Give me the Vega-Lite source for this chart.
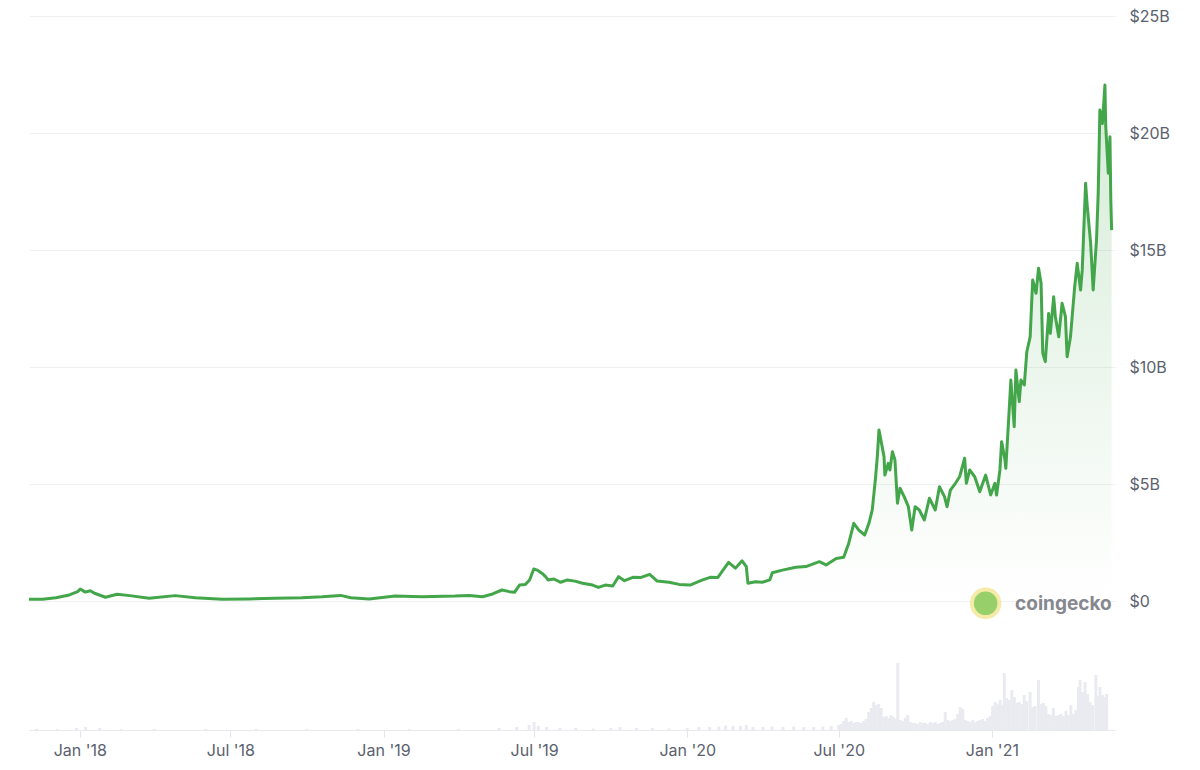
{
  "$schema": "https://vega.github.io/schema/vega-lite/v6.json",
  "background": "white",
  "padding": {"left": 27, "top": 8, "right": 0, "bottom": 0},
  "bounds": "flush",
  "spacing": 49,
  "config": {"view": {"stroke": null}, "font": "Inter"},
  "datasets": {
    "price": [
      {"date": "2017-11-07", "cap": 0.07}, {"date": "2017-11-23", "cap": 0.07}, {"date": "2017-12-09", "cap": 0.14},
      {"date": "2017-12-25", "cap": 0.26}, {"date": "2018-01-04", "cap": 0.40}, {"date": "2018-01-07", "cap": 0.51},
      {"date": "2018-01-13", "cap": 0.38}, {"date": "2018-01-19", "cap": 0.44}, {"date": "2018-01-24", "cap": 0.33},
      {"date": "2018-02-06", "cap": 0.16}, {"date": "2018-02-20", "cap": 0.29}, {"date": "2018-03-07", "cap": 0.23},
      {"date": "2018-03-30", "cap": 0.12}, {"date": "2018-04-30", "cap": 0.23}, {"date": "2018-05-24", "cap": 0.14},
      {"date": "2018-06-25", "cap": 0.07}, {"date": "2018-07-27", "cap": 0.09}, {"date": "2018-08-27", "cap": 0.12},
      {"date": "2018-09-28", "cap": 0.14}, {"date": "2018-10-22", "cap": 0.18}, {"date": "2018-11-13", "cap": 0.24},
      {"date": "2018-11-25", "cap": 0.14}, {"date": "2018-12-17", "cap": 0.09}, {"date": "2019-01-17", "cap": 0.21},
      {"date": "2019-02-18", "cap": 0.18}, {"date": "2019-03-29", "cap": 0.21}, {"date": "2019-04-15", "cap": 0.24},
      {"date": "2019-05-01", "cap": 0.18}, {"date": "2019-05-13", "cap": 0.30}, {"date": "2019-05-24", "cap": 0.47},
      {"date": "2019-06-02", "cap": 0.40}, {"date": "2019-06-08", "cap": 0.37}, {"date": "2019-06-14", "cap": 0.68},
      {"date": "2019-06-21", "cap": 0.71}, {"date": "2019-06-26", "cap": 0.90}, {"date": "2019-07-01", "cap": 1.37},
      {"date": "2019-07-05", "cap": 1.32}, {"date": "2019-07-11", "cap": 1.18}, {"date": "2019-07-15", "cap": 1.04},
      {"date": "2019-07-18", "cap": 0.90}, {"date": "2019-07-25", "cap": 0.94}, {"date": "2019-08-02", "cap": 0.80},
      {"date": "2019-08-10", "cap": 0.90}, {"date": "2019-08-19", "cap": 0.85}, {"date": "2019-08-28", "cap": 0.76},
      {"date": "2019-09-09", "cap": 0.68}, {"date": "2019-09-16", "cap": 0.58}, {"date": "2019-09-24", "cap": 0.68},
      {"date": "2019-10-03", "cap": 0.64}, {"date": "2019-10-10", "cap": 1.04}, {"date": "2019-10-17", "cap": 0.87},
      {"date": "2019-10-27", "cap": 1.01}, {"date": "2019-11-05", "cap": 1.00}, {"date": "2019-11-16", "cap": 1.14},
      {"date": "2019-11-25", "cap": 0.85}, {"date": "2019-12-09", "cap": 0.80}, {"date": "2019-12-21", "cap": 0.71},
      {"date": "2020-01-03", "cap": 0.68}, {"date": "2020-01-18", "cap": 0.90}, {"date": "2020-01-27", "cap": 1.01},
      {"date": "2020-02-05", "cap": 1.00}, {"date": "2020-02-13", "cap": 1.40}, {"date": "2020-02-18", "cap": 1.65},
      {"date": "2020-02-26", "cap": 1.40}, {"date": "2020-03-05", "cap": 1.72}, {"date": "2020-03-10", "cap": 1.47},
      {"date": "2020-03-12", "cap": 0.76}, {"date": "2020-03-21", "cap": 0.82}, {"date": "2020-03-29", "cap": 0.80},
      {"date": "2020-04-07", "cap": 0.90}, {"date": "2020-04-10", "cap": 1.21}, {"date": "2020-04-22", "cap": 1.32},
      {"date": "2020-05-08", "cap": 1.44}, {"date": "2020-05-20", "cap": 1.47}, {"date": "2020-06-05", "cap": 1.68},
      {"date": "2020-06-13", "cap": 1.54}, {"date": "2020-06-25", "cap": 1.82}, {"date": "2020-07-04", "cap": 1.87},
      {"date": "2020-07-10", "cap": 2.47}, {"date": "2020-07-16", "cap": 3.32}, {"date": "2020-07-22", "cap": 3.03},
      {"date": "2020-07-29", "cap": 2.82}, {"date": "2020-08-03", "cap": 3.32}, {"date": "2020-08-07", "cap": 3.89},
      {"date": "2020-08-11", "cap": 5.31}, {"date": "2020-08-13", "cap": 6.17}, {"date": "2020-08-15", "cap": 7.31},
      {"date": "2020-08-18", "cap": 6.74}, {"date": "2020-08-21", "cap": 6.17}, {"date": "2020-08-22", "cap": 5.38},
      {"date": "2020-08-26", "cap": 5.88}, {"date": "2020-08-28", "cap": 5.60}, {"date": "2020-08-31", "cap": 6.38},
      {"date": "2020-09-03", "cap": 6.03}, {"date": "2020-09-06", "cap": 4.18}, {"date": "2020-09-09", "cap": 4.82},
      {"date": "2020-09-14", "cap": 4.46}, {"date": "2020-09-19", "cap": 4.03}, {"date": "2020-09-23", "cap": 3.03},
      {"date": "2020-09-27", "cap": 4.03}, {"date": "2020-10-02", "cap": 3.89}, {"date": "2020-10-08", "cap": 3.46},
      {"date": "2020-10-14", "cap": 4.39}, {"date": "2020-10-21", "cap": 3.89}, {"date": "2020-10-26", "cap": 4.88},
      {"date": "2020-11-01", "cap": 4.46}, {"date": "2020-11-04", "cap": 4.03}, {"date": "2020-11-08", "cap": 4.74},
      {"date": "2020-11-14", "cap": 5.03}, {"date": "2020-11-19", "cap": 5.31}, {"date": "2020-11-25", "cap": 6.10},
      {"date": "2020-11-27", "cap": 5.03}, {"date": "2020-12-01", "cap": 5.60}, {"date": "2020-12-07", "cap": 5.31},
      {"date": "2020-12-13", "cap": 4.67}, {"date": "2020-12-20", "cap": 5.38}, {"date": "2020-12-26", "cap": 4.53},
      {"date": "2020-12-31", "cap": 5.03}, {"date": "2021-01-02", "cap": 4.53}, {"date": "2021-01-06", "cap": 5.60},
      {"date": "2021-01-08", "cap": 6.81}, {"date": "2021-01-12", "cap": 6.03}, {"date": "2021-01-13", "cap": 5.67},
      {"date": "2021-01-17", "cap": 8.16}, {"date": "2021-01-19", "cap": 9.44}, {"date": "2021-01-23", "cap": 7.45},
      {"date": "2021-01-25", "cap": 9.87}, {"date": "2021-01-29", "cap": 8.52}, {"date": "2021-01-31", "cap": 9.44},
      {"date": "2021-02-04", "cap": 9.23}, {"date": "2021-02-07", "cap": 10.65}, {"date": "2021-02-11", "cap": 11.29},
      {"date": "2021-02-14", "cap": 13.72}, {"date": "2021-02-18", "cap": 13.15}, {"date": "2021-02-21", "cap": 14.22},
      {"date": "2021-02-24", "cap": 13.58}, {"date": "2021-02-26", "cap": 10.59}, {"date": "2021-03-01", "cap": 10.23},
      {"date": "2021-03-05", "cap": 12.29}, {"date": "2021-03-07", "cap": 11.44}, {"date": "2021-03-11", "cap": 13.00},
      {"date": "2021-03-13", "cap": 12.15}, {"date": "2021-03-17", "cap": 11.29}, {"date": "2021-03-21", "cap": 12.72},
      {"date": "2021-03-25", "cap": 12.15}, {"date": "2021-03-27", "cap": 10.44}, {"date": "2021-03-31", "cap": 11.29},
      {"date": "2021-04-05", "cap": 13.43}, {"date": "2021-04-08", "cap": 14.43}, {"date": "2021-04-12", "cap": 13.29},
      {"date": "2021-04-14", "cap": 14.15}, {"date": "2021-04-18", "cap": 17.85}, {"date": "2021-04-20", "cap": 16.85},
      {"date": "2021-04-24", "cap": 15.29}, {"date": "2021-04-27", "cap": 13.29}, {"date": "2021-05-01", "cap": 15.43},
      {"date": "2021-05-03", "cap": 17.42}, {"date": "2021-05-05", "cap": 20.98}, {"date": "2021-05-08", "cap": 20.41},
      {"date": "2021-05-11", "cap": 22.05}, {"date": "2021-05-12", "cap": 20.27}, {"date": "2021-05-15", "cap": 18.28},
      {"date": "2021-05-17", "cap": 19.84}, {"date": "2021-05-18", "cap": 17.14}, {"date": "2021-05-19", "cap": 15.85}
    ],
    "volume": [
      {"date": "2017-11-10", "vol": 0.1}, {"date": "2017-12-05", "vol": 0.1}, {"date": "2017-12-28", "vol": 0.2},
      {"date": "2018-01-08", "vol": 0.3}, {"date": "2018-01-25", "vol": 0.2}, {"date": "2018-02-20", "vol": 0.1},
      {"date": "2018-04-01", "vol": 0.1}, {"date": "2018-06-01", "vol": 0.1}, {"date": "2018-08-01", "vol": 0.1},
      {"date": "2018-10-01", "vol": 0.1}, {"date": "2018-12-01", "vol": 0.1}, {"date": "2019-02-01", "vol": 0.1},
      {"date": "2019-04-01", "vol": 0.1}, {"date": "2019-05-20", "vol": 0.2}, {"date": "2019-06-10", "vol": 0.3},
      {"date": "2019-06-25", "vol": 0.5}, {"date": "2019-07-01", "vol": 0.8}, {"date": "2019-07-06", "vol": 0.4},
      {"date": "2019-07-16", "vol": 0.3}, {"date": "2019-08-01", "vol": 0.2}, {"date": "2019-08-20", "vol": 0.2},
      {"date": "2019-09-10", "vol": 0.15}, {"date": "2019-10-01", "vol": 0.2}, {"date": "2019-10-12", "vol": 0.3},
      {"date": "2019-11-01", "vol": 0.2}, {"date": "2019-11-20", "vol": 0.2}, {"date": "2019-12-10", "vol": 0.15},
      {"date": "2020-01-01", "vol": 0.2}, {"date": "2020-01-15", "vol": 0.3}, {"date": "2020-01-28", "vol": 0.3},
      {"date": "2020-02-08", "vol": 0.35}, {"date": "2020-02-16", "vol": 0.45}, {"date": "2020-02-25", "vol": 0.4},
      {"date": "2020-03-05", "vol": 0.4}, {"date": "2020-03-12", "vol": 0.5}, {"date": "2020-03-20", "vol": 0.3},
      {"date": "2020-04-01", "vol": 0.3}, {"date": "2020-04-12", "vol": 0.35}, {"date": "2020-04-25", "vol": 0.3},
      {"date": "2020-05-08", "vol": 0.35}, {"date": "2020-05-20", "vol": 0.3}, {"date": "2020-06-01", "vol": 0.3},
      {"date": "2020-06-12", "vol": 0.35}, {"date": "2020-06-22", "vol": 0.4},
      {"date": "2020-07-01", "vol": 0.5}, {"date": "2020-07-04", "vol": 0.6}, {"date": "2020-07-07", "vol": 0.9},
      {"date": "2020-07-10", "vol": 1.2}, {"date": "2020-07-13", "vol": 0.8}, {"date": "2020-07-16", "vol": 0.9},
      {"date": "2020-07-19", "vol": 0.7}, {"date": "2020-07-22", "vol": 0.8}, {"date": "2020-07-25", "vol": 0.8},
      {"date": "2020-07-28", "vol": 0.7}, {"date": "2020-07-31", "vol": 0.9}, {"date": "2020-08-03", "vol": 1.1},
      {"date": "2020-08-06", "vol": 1.8}, {"date": "2020-08-09", "vol": 2.2}, {"date": "2020-08-12", "vol": 2.8},
      {"date": "2020-08-15", "vol": 2.5}, {"date": "2020-08-18", "vol": 2.6}, {"date": "2020-08-21", "vol": 2.2},
      {"date": "2020-08-24", "vol": 1.3}, {"date": "2020-08-27", "vol": 1.4}, {"date": "2020-08-30", "vol": 1.2},
      {"date": "2020-09-02", "vol": 1.5}, {"date": "2020-09-05", "vol": 1.3}, {"date": "2020-09-08", "vol": 1.1},
      {"date": "2020-09-10", "vol": 6.7}, {"date": "2020-09-13", "vol": 1.0}, {"date": "2020-09-16", "vol": 0.9},
      {"date": "2020-09-19", "vol": 1.2}, {"date": "2020-09-22", "vol": 1.5}, {"date": "2020-09-25", "vol": 0.8},
      {"date": "2020-09-28", "vol": 0.7}, {"date": "2020-10-01", "vol": 0.7}, {"date": "2020-10-04", "vol": 0.6},
      {"date": "2020-10-07", "vol": 0.8}, {"date": "2020-10-10", "vol": 0.7}, {"date": "2020-10-13", "vol": 0.7},
      {"date": "2020-10-16", "vol": 0.6}, {"date": "2020-10-19", "vol": 0.8}, {"date": "2020-10-22", "vol": 0.7},
      {"date": "2020-10-25", "vol": 0.8}, {"date": "2020-10-28", "vol": 0.6}, {"date": "2020-10-31", "vol": 0.7},
      {"date": "2020-11-03", "vol": 0.8}, {"date": "2020-11-06", "vol": 1.8}, {"date": "2020-11-09", "vol": 1.0},
      {"date": "2020-11-12", "vol": 0.9}, {"date": "2020-11-15", "vol": 1.0}, {"date": "2020-11-18", "vol": 1.1},
      {"date": "2020-11-21", "vol": 1.6}, {"date": "2020-11-24", "vol": 2.3}, {"date": "2020-11-27", "vol": 2.1},
      {"date": "2020-11-30", "vol": 1.0}, {"date": "2020-12-03", "vol": 0.9}, {"date": "2020-12-06", "vol": 0.8},
      {"date": "2020-12-09", "vol": 1.0}, {"date": "2020-12-12", "vol": 0.8}, {"date": "2020-12-15", "vol": 0.9},
      {"date": "2020-12-18", "vol": 1.0}, {"date": "2020-12-21", "vol": 1.1}, {"date": "2020-12-24", "vol": 0.9},
      {"date": "2020-12-27", "vol": 1.2}, {"date": "2020-12-30", "vol": 1.4}, {"date": "2021-01-02", "vol": 2.4},
      {"date": "2021-01-05", "vol": 2.8}, {"date": "2021-01-08", "vol": 2.6}, {"date": "2021-01-11", "vol": 3.0},
      {"date": "2021-01-14", "vol": 2.5}, {"date": "2021-01-16", "vol": 5.7}, {"date": "2021-01-19", "vol": 3.2},
      {"date": "2021-01-22", "vol": 3.0}, {"date": "2021-01-25", "vol": 4.0}, {"date": "2021-01-28", "vol": 3.3},
      {"date": "2021-01-31", "vol": 2.7}, {"date": "2021-02-03", "vol": 2.8}, {"date": "2021-02-06", "vol": 2.6},
      {"date": "2021-02-09", "vol": 3.5}, {"date": "2021-02-12", "vol": 2.9}, {"date": "2021-02-16", "vol": 3.8},
      {"date": "2021-02-19", "vol": 2.3}, {"date": "2021-02-22", "vol": 2.4}, {"date": "2021-02-26", "vol": 5.0},
      {"date": "2021-03-01", "vol": 2.6}, {"date": "2021-03-04", "vol": 2.7}, {"date": "2021-03-07", "vol": 2.4},
      {"date": "2021-03-10", "vol": 1.6}, {"date": "2021-03-13", "vol": 1.5}, {"date": "2021-03-16", "vol": 2.2},
      {"date": "2021-03-19", "vol": 1.4}, {"date": "2021-03-22", "vol": 1.5}, {"date": "2021-03-25", "vol": 1.6},
      {"date": "2021-03-28", "vol": 1.4}, {"date": "2021-03-31", "vol": 1.9}, {"date": "2021-04-03", "vol": 1.5},
      {"date": "2021-04-06", "vol": 2.5}, {"date": "2021-04-09", "vol": 1.6}, {"date": "2021-04-12", "vol": 2.0},
      {"date": "2021-04-15", "vol": 4.3}, {"date": "2021-04-17", "vol": 5.0}, {"date": "2021-04-20", "vol": 3.8},
      {"date": "2021-04-23", "vol": 4.8}, {"date": "2021-04-26", "vol": 3.6}, {"date": "2021-04-29", "vol": 2.8},
      {"date": "2021-05-02", "vol": 2.5}, {"date": "2021-05-06", "vol": 5.5}, {"date": "2021-05-09", "vol": 3.4},
      {"date": "2021-05-11", "vol": 4.3}, {"date": "2021-05-14", "vol": 3.5}, {"date": "2021-05-17", "vol": 3.3},
      {"date": "2021-05-19", "vol": 3.6}
    ]
  },
  "vconcat": [
    {
      "width": 1086,
      "height": 585,
      "layer": [
        {
          "data": {"name": "price"},
          "mark": {
            "type": "area",
            "color": {
              "gradient": "linear", "x1": 0, "y1": 0, "x2": 0, "y2": 1,
              "stops": [
                {"offset": 0, "color": "rgba(67,166,74,0.22)"},
                {"offset": 1, "color": "rgba(67,166,74,0)"}
              ]
            }
          },
          "encoding": {
            "x": {"field": "date", "type": "temporal", "axis": null,
                  "scale": {"type": "utc", "domain": [{"year": 2017, "month": 11, "date": 7, "utc": true}, {"year": 2021, "month": 5, "date": 23, "utc": true}]}},
            "y": {"field": "cap", "type": "quantitative",
                  "scale": {"domain": [0, 25], "nice": false},
                  "axis": {"orient": "right", "values": [0, 5, 10, 15, 20, 25], "title": null,
                           "labelExpr": "datum.value == 0 ? '$0' : '$' + datum.value + 'B'",
                           "grid": true, "gridColor": "#eef0f3", "gridWidth": 1,
                           "domain": false, "ticks": false, "labelPadding": 14,
                           "labelFontSize": 16, "labelColor": "#5b616e", "labelFont": "Inter"}}
          }
        },
        {
          "data": {"name": "price"},
          "mark": {"type": "line", "color": "#44a64a", "strokeWidth": 3, "strokeJoin": "round"},
          "encoding": {
            "x": {"field": "date", "type": "temporal"},
            "y": {"field": "cap", "type": "quantitative"}
          }
        },
        {
          "data": {"values": [{"date": "2020-12-20", "v": -0.1}]},
          "mark": {"type": "point", "shape": "circle", "filled": true, "size": 760, "fill": "#97cf6a", "stroke": "#f6eaa8", "strokeWidth": 4, "opacity": 1},
          "encoding": {
            "x": {"field": "date", "type": "temporal"},
            "y": {"field": "v", "type": "quantitative"}
          }
        },
        {
          "data": {"values": [{"date": "2021-05-19", "v": -0.12, "label": "coingecko"}]},
          "mark": {"type": "text", "align": "right", "baseline": "middle", "fontSize": 19, "fontWeight": "bold", "font": "Inter", "color": "#85888e"},
          "encoding": {
            "x": {"field": "date", "type": "temporal"},
            "y": {"field": "v", "type": "quantitative"},
            "text": {"field": "label"}
          }
        }
      ]
    },
    {
      "width": 1086,
      "height": 80,
      "data": {"name": "volume"},
      "mark": {"type": "bar", "color": "#eaebf0", "size": 3},
      "encoding": {
        "x": {"field": "date", "type": "temporal",
              "scale": {"type": "utc", "domain": [{"year": 2017, "month": 11, "date": 7, "utc": true}, {"year": 2021, "month": 5, "date": 23, "utc": true}]},
              "axis": {"title": null, "format": "%b '%y", "tickCount": {"interval": "month", "step": 6},
                       "grid": false, "domainColor": "#e8eaee", "tickColor": "#e3e5ea", "tickSize": 7,
                       "labelPadding": 5, "labelFontSize": 16, "labelColor": "#5b616e", "labelFont": "Inter",
                       "labelFlush": false}},
        "y": {"field": "vol", "type": "quantitative", "axis": null, "scale": {"domain": [0, 8], "nice": false}}
      }
    }
  ]
}
